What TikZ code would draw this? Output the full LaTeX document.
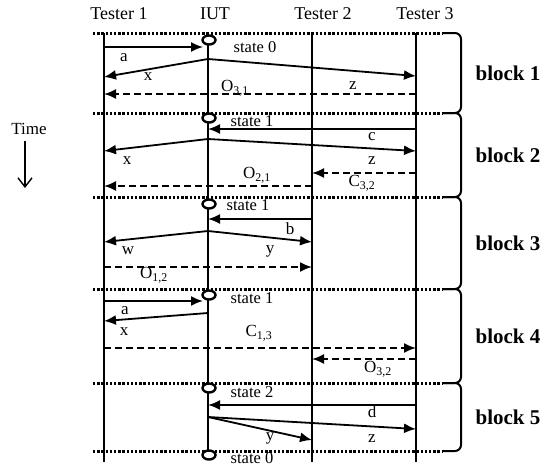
\documentclass[tikz,border=0pt]{standalone}
\usepackage{fontspec}
\setmainfont{Liberation Serif}
\usetikzlibrary{arrows.meta,shapes.geometric}
\begin{document}
\begin{tikzpicture}[x=1pt,y=-1pt,
  hdr/.style={font=\fontsize{18}{20}\selectfont, inner sep=0},
  lbl/.style={font=\fontsize{17}{19}\selectfont, inner sep=0},
  stlbl/.style={font=\fontsize{16.5}{18}\selectfont, inner sep=0},
  blk/.style={font=\fontsize{21}{23}\selectfont\bfseries, inner sep=0},
  life/.style={line width=2.2pt},
  msg/.style={line width=1.8pt, -{Latex[length=12pt,width=10pt]}},
  dmsg/.style={msg, dash pattern=on 7pt off 4pt},
  sep/.style={line width=3pt, dash pattern=on 2.4pt off 1.8pt},
  brk/.style={line width=2pt, rounded corners=6pt},
  stcirc/.style={ellipse, draw, line width=2.4pt, minimum width=13pt, minimum height=9pt, inner sep=0pt, fill=white}
]
\useasboundingbox (0,0) rectangle (547,466);

% headers
\node[hdr] (h1) at (119,14) {Tester 1};
\node[hdr] (h2) at (215,14) {IUT};
\node[hdr] (h3) at (323,14) {Tester 2};
\node[hdr] (h4) at (425,14) {Tester 3};

% time
\node[lbl] (time) at (29,129) {Time};
\coordinate (tA) at (25,141);
\coordinate (tB) at (25,188);
\draw[line width=1.4pt, -{Straight Barb[length=9pt,width=14pt]}] (tA) -- (tB);

% separators
\foreach \y in {33,113,197,289,383,451} {
  \draw[sep] (93,\y) -- (443,\y);
}
% brackets
\foreach \a/\b in {33/113,113/197,197/289,289/383,383/451} {
  \draw[brk] (443,\a) -| (461,\b) -- (443,\b);
}
\node[blk] (b1) at (508,73) {block 1};
\node[blk] (b2) at (508,155) {block 2};
\node[blk] (b3) at (508,243) {block 3};
\node[blk] (b4) at (508,336) {block 4};
\node[blk] (b5) at (508,417) {block 5};

% lifelines
\coordinate (T1t) at (104,33); \coordinate (T1b) at (104,462);
\coordinate (It) at (208,33);  \coordinate (Ib) at (208,452);
\coordinate (T2t) at (312,33); \coordinate (T2b) at (312,462);
\coordinate (T3t) at (416,33); \coordinate (T3b) at (416,462);
\draw[life] (T1t) -- (T1b);
\draw[life] (It) -- (Ib);
\draw[life] (T2t) -- (T2b);
\draw[life] (T3t) -- (T3b);

% ---- block 1
\coordinate (a1s) at (104,47); \coordinate (a1e) at (203,47);
\draw[msg] (a1s) -- (a1e);
\coordinate (x1s) at (208,59); \coordinate (x1e) at (104,77); \coordinate (z1e) at (416,76);
\draw[msg] (x1s) -- (x1e);
\draw[msg] (x1s) -- (z1e);
\coordinate (o31s) at (416,94); \coordinate (o31e) at (104,94);
\draw[dmsg] (o31s) -- (o31e);
\node[lbl] (la1) at (124,58) {a};
\node[lbl] (lx1) at (148,77) {x};
\node[lbl] (lz1) at (353,86) {z};
\node[lbl] (lo31) at (235,88) {O\textsubscript{3,1}};
\node[stlbl] (ls0) at (255,47) {state 0};

% ---- block 2
\coordinate (c2s) at (416,129); \coordinate (c2e) at (208,129);
\draw[msg] (c2s) -- (c2e);
\coordinate (x2s) at (208,139); \coordinate (x2e) at (104,151); \coordinate (z2e) at (416,151);
\draw[msg] (x2s) -- (x2e);
\draw[msg] (x2s) -- (z2e);
\coordinate (c32s) at (416,173); \coordinate (c32e) at (312,173);
\draw[dmsg] (c32s) -- (c32e);
\coordinate (o21s) at (312,186); \coordinate (o21e) at (104,186);
\draw[dmsg] (o21s) -- (o21e);
\node[lbl] (lc2) at (372,137) {c};
\node[lbl] (lx2) at (127,161) {x};
\node[lbl] (lz2) at (372,161) {z};
\node[lbl] (lo21) at (257,175) {O\textsubscript{2,1}};
\node[lbl] (lc32) at (362,183) {C\textsubscript{3,2}};
\node[stlbl] (ls1a) at (252,121) {state 1};

% ---- block 3
\coordinate (b3s) at (312,219); \coordinate (b3e) at (208,219);
\draw[msg] (b3s) -- (b3e);
\coordinate (w3s) at (208,231); \coordinate (w3e) at (104,242); \coordinate (y3e) at (312,242);
\draw[msg] (w3s) -- (w3e);
\draw[msg] (w3s) -- (y3e);
\coordinate (o12s) at (104,267); \coordinate (o12e) at (312,267);
\draw[dmsg] (o12s) -- (o12e);
\node[lbl] (lb3) at (290,229) {b};
\node[lbl] (lw3) at (128,251) {w};
\node[lbl] (ly3) at (270,251) {y};
\node[lbl] (lo12) at (154,275) {O\textsubscript{1,2}};
\node[stlbl] (ls1b) at (248,205) {state 1};

% ---- block 4
\coordinate (a4s) at (104,301); \coordinate (a4e) at (203,301);
\draw[msg] (a4s) -- (a4e);
\coordinate (x4s) at (208,313); \coordinate (x4e) at (104,321);
\draw[msg] (x4s) -- (x4e);
\coordinate (c13s) at (104,348); \coordinate (c13e) at (416,348);
\draw[dmsg] (c13s) -- (c13e);
\coordinate (o32s) at (416,359); \coordinate (o32e) at (312,359);
\draw[dmsg] (o32s) -- (o32e);
\node[lbl] (la4) at (125,311) {a};
\node[lbl] (lx4) at (124,332) {x};
\node[lbl] (lc13) at (259,333) {C\textsubscript{1,3}};
\node[lbl] (lo32) at (378,369) {O\textsubscript{3,2}};
\node[stlbl] (ls1c) at (252,298) {state 1};

% ---- block 5
\coordinate (d5s) at (416,405); \coordinate (d5e) at (208,405);
\draw[msg] (d5s) -- (d5e);
\coordinate (y5s) at (208,417); \coordinate (y5e) at (312,440); \coordinate (z5e) at (416,429);
\draw[msg] (y5s) -- (y5e);
\draw[msg] (y5s) -- (z5e);
\node[lbl] (ld5) at (372,412) {d};
\node[lbl] (ly5) at (270,438) {y};
\node[lbl] (lz5) at (372,439) {z};
\node[stlbl] (ls2) at (252,392) {state 2};
\node[stlbl] (ls0b) at (252,458) {state 0};

% state circles
\node[stcirc] (s0) at (209,40) {};
\node[stcirc] (s1a) at (209,118) {};
\node[stcirc] (s1b) at (209,204) {};
\node[stcirc] (s1c) at (209,295) {};
\node[stcirc] (s2) at (209,388) {};
\node[stcirc] (s0b) at (209,455) {};
\end{tikzpicture}
\end{document}
